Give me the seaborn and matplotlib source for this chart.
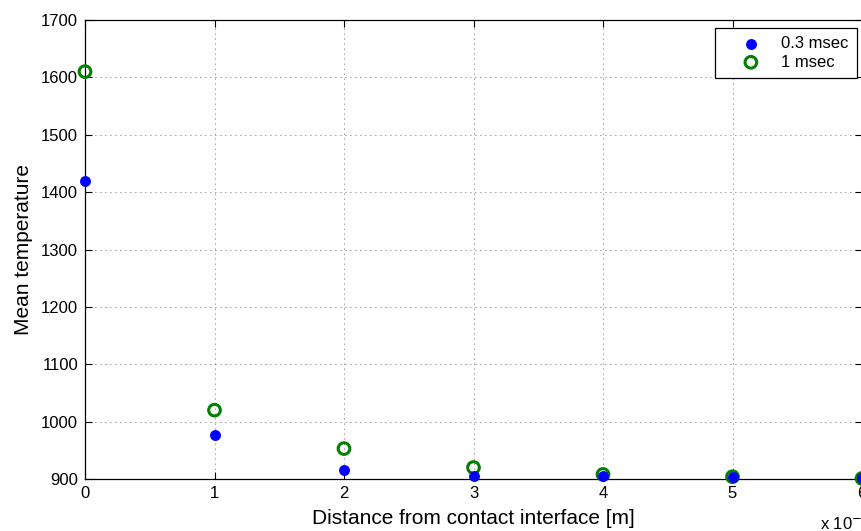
import matplotlib
matplotlib.use("Agg")
import matplotlib.pyplot as plt
import seaborn as sns
import pandas as pd

# Mean temperature versus distance from the contact interface
distance = [0, 1, 2, 3, 4, 5, 6]  # in units of 1e-4 m
temp_03ms = [1420, 976, 915, 905, 905, 903, 901]
temp_1ms = [1610, 1020, 953, 920, 908, 904, 901]
series_labels = ["0.3 msec", "1 msec"]
y_ticks = [900, 1000, 1100, 1200, 1300, 1400, 1500, 1600, 1700]
x_ticks = [0, 1, 2, 3, 4, 5, 6]

df_a = pd.DataFrame({"x": distance, "T": temp_03ms})
df_b = pd.DataFrame({"x": distance, "T": temp_1ms})

sns.set_style("white")
plt.rcParams["font.family"] = ["Liberation Sans", "DejaVu Sans"]
plt.rcParams["text.color"] = "black"
plt.rcParams["axes.labelcolor"] = "black"

fig = plt.figure(figsize=(8.61, 5.31), dpi=100)
ax = fig.add_axes([85 / 861, 1 - 479 / 531, 777 / 861, 459 / 531])

sns.scatterplot(data=df_b, x="x", y="T", ax=ax, facecolor="none", s=70,
                edgecolor="#008000", linewidth=2.2, label=series_labels[1],
                clip_on=False, zorder=3)
sns.scatterplot(data=df_a, x="x", y="T", ax=ax, color="#0000ff", s=62,
                edgecolor="#0000ff", linewidth=0, label=series_labels[0],
                clip_on=False, zorder=4)

ax.set_xlim(0, 6)
ax.set_ylim(900, 1700)
ax.set_xticks(x_ticks)
ax.set_yticks(y_ticks)
ax.set_xticklabels([str(v) for v in x_ticks], fontsize=12)
ax.set_yticklabels([str(v) for v in y_ticks], fontsize=12)
ax.tick_params(direction="in", length=5, width=0.8, color="black",
               top=True, right=True, bottom=True, left=True, pad=5,
               labelcolor="black")
ax.grid(True, linestyle=(0, (1, 5)), color="black", linewidth=0.6, alpha=0.8)
for sp in ax.spines.values():
    sp.set_color("black")
    sp.set_linewidth(0.9)
    sp.set_visible(True)

ax.set_xlabel("Distance from contact interface [m]", fontsize=15, labelpad=6,
              color="black")
ax.set_ylabel("Mean temperature", fontsize=15, labelpad=6, color="black")

fig.text(820 / 861, 1 - 523 / 531, r"x 10$^{-4}$", fontsize=12, ha="left",
         va="center", color="black")

handles, labels = ax.get_legend_handles_labels()
order = [labels.index(series_labels[0]), labels.index(series_labels[1])]
leg = ax.legend([handles[i] for i in order], [labels[i] for i in order],
                loc="upper right", bbox_to_anchor=(857 / 861, 1 - 28 / 531),
                bbox_transform=fig.transFigure,
                frameon=True, fancybox=False, framealpha=1, edgecolor="black",
                fontsize=12, borderpad=0.5, handletextpad=0.15, labelspacing=0.2,
                borderaxespad=0, handlelength=3.35)
leg.get_frame().set_linewidth(0.9)
for t in leg.get_texts():
    t.set_color("black")

fig.savefig("out.png", dpi=100)
